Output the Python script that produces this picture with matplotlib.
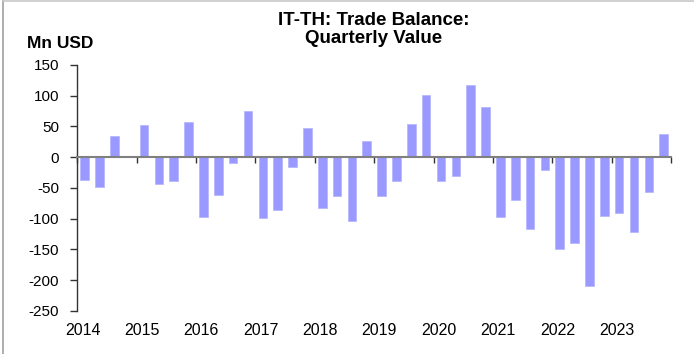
import numpy as np
import matplotlib
matplotlib.use("Agg")
import matplotlib.pyplot as plt
from matplotlib.lines import Line2D

plt.rcParams['font.family'] = ['Liberation Sans', 'DejaVu Sans']

# Quarterly trade balance, 2014Q1 - 2023Q4 (Mn USD)
years = [2014, 2015, 2016, 2017, 2018, 2019, 2020, 2021, 2022, 2023]
balance = [
    -37, -48, 34, 0,
    53, -44, -39, 58,
    -97, -62, -10, 76,
    -98, -85, -16, 48,
    -82, -63, -104, 27,
    -63, -38, 54, 101,
    -38, -30, 118, 81,
    -97, -69, -117, -21,
    -149, -139, -209, -95,
    -90, -122, -57, 38,
]
y_ticks = [150, 100, 50, 0, -50, -100, -150, -200, -250]

fig = plt.figure(figsize=(6.94, 3.54), dpi=100)
ax = fig.add_axes([0.1114, 0.1215, 0.967 - 0.1114, 0.8164 - 0.1215])

x = np.arange(len(balance))
ax.bar(x, balance, width=0.58, color='#9999FF', edgecolor='#B3B3FF', linewidth=0.5, zorder=2)

ax.set_xlim(-0.5, len(balance) - 0.5)
ax.set_ylim(-250, 150)
ax.set_yticks(y_ticks)
ax.set_yticklabels([str(v) for v in y_ticks])

for side in ['top', 'right']:
    ax.spines[side].set_visible(False)
ax.spines['left'].set_color('#333333')
ax.spines['left'].set_linewidth(1.0)
ax.spines['bottom'].set_position(('data', 0))
ax.spines['bottom'].set_color('#808080')
ax.spines['bottom'].set_linewidth(1.5)
ax.spines['bottom'].set_zorder(3)

ax.tick_params(axis='y', direction='out', length=5, width=1, color='#333333',
               labelsize=11, pad=8)
ax.set_xticks(np.arange(-0.5, len(balance), 4))
ax.set_xticklabels([])
ax.tick_params(axis='x', direction='out', length=4, width=1, color='#333333')

# year labels below the plot area
for i, yr in enumerate(years):
    ax.text(4 * i - 0.15, -0.081, str(yr), transform=ax.get_xaxis_transform(),
            ha='center', va='center', fontsize=11.5)

fig.text(0.538, 0.916, 'IT-TH: Trade Balance:\nQuarterly Value', ha='center', va='center',
         fontsize=13.5, fontweight='bold', linespacing=1.08)
fig.text(0.039, 0.876, 'Mn USD', ha='left', va='center', fontsize=12.5, fontweight='bold')

# chart frame
fig.add_artist(Line2D([0.005, 0.005], [0, 1], color='#A0A0A0', lw=1.2, transform=fig.transFigure))
fig.add_artist(Line2D([0.005, 1], [0.998, 0.998], color='#C8C8C8', lw=1.2, transform=fig.transFigure))

fig.savefig('out.png', dpi=100)
